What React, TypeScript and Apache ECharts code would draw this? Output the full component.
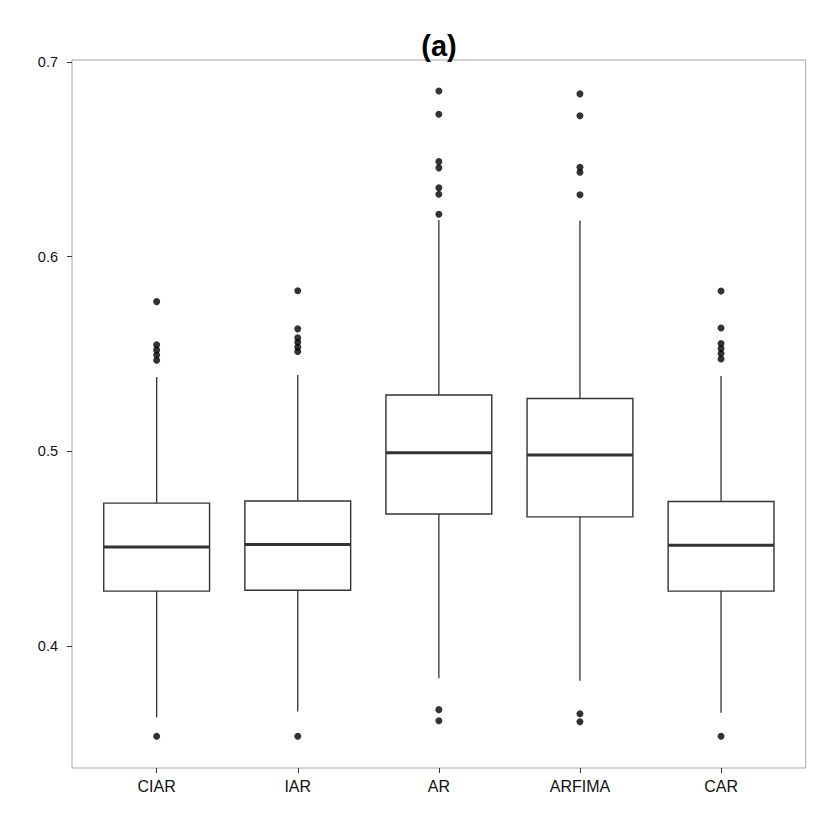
import React, { useEffect, useRef } from "react";
import * as echarts from "echarts";

const categories = ["CIAR", "IAR", "AR", "ARFIMA", "CAR"];
const lowerWhisker = [0.3634, 0.3663, 0.3834, 0.3822, 0.3657];
const q1 = [0.4282, 0.4286, 0.4678, 0.4663, 0.4282];
const median = [0.4508, 0.4521, 0.4993, 0.4981, 0.4517];
const q3 = [0.4734, 0.4745, 0.5289, 0.5271, 0.4742];
const upperWhisker = [0.5382, 0.5392, 0.6188, 0.6185, 0.5387];

const outliersCIAR = [0.3536, 0.5547, 0.5521, 0.5495, 0.5468, 0.5769];
const outliersIAR = [0.3536, 0.5513, 0.5535, 0.556, 0.5583, 0.5629, 0.5825];
const outliersAR = [0.3616, 0.3673, 0.6218, 0.632, 0.6354, 0.6456, 0.6488, 0.6731, 0.6851];
const outliersARFIMA = [0.3611, 0.3652, 0.6318, 0.6433, 0.6459, 0.6724, 0.6836];
const outliersCAR = [0.3536, 0.5474, 0.5502, 0.5528, 0.5554, 0.5633, 0.5823];

const yTicks = [0.4, 0.5, 0.6, 0.7];
const yMin = 0.33733;
const yMax = 0.701;
const title = "(a)";

const FONT = "'Liberation Sans', Arial, Helvetica, sans-serif";
const NARROW = "'Liberation Sans Narrow', 'Liberation Sans', Arial, sans-serif";

export default function App() {
  const ref = useRef<HTMLDivElement>(null);
  useEffect(() => {
    if (!ref.current) return;
    const chart = echarts.init(ref.current, null, { renderer: "svg" });
    const boxData = categories.map((_, i) => [
      i,
      lowerWhisker[i],
      q1[i],
      median[i],
      q3[i],
      upperWhisker[i],
    ]);
    const outlierLists = [outliersCIAR, outliersIAR, outliersAR, outliersARFIMA, outliersCAR];
    const outlierData: number[][] = [];
    outlierLists.forEach((list, i) => list.forEach((v) => outlierData.push([i, v])));

    const option: any = {
      animation: false,
      backgroundColor: "#ffffff",
      grid: { left: 86.1, right: 38.4, top: 60, bottom: 62 },
      graphic: [
        {
          type: "rect",
          z: 0,
          shape: { x: 72, y: 60, width: 733.7, height: 708 },
          style: { fill: "none", stroke: "#a6a6a6", lineWidth: 1 },
          silent: true,
        },
        {
          type: "text",
          x: 439,
          y: 46,
          style: {
            text: title,
            font: `bold 29px ${NARROW}`,
            fill: "#000",
            textAlign: "center",
            textVerticalAlign: "middle",
          },
        },
      ],
      xAxis: {
        type: "category",
        data: categories,
        boundaryGap: true,
        axisLine: { show: false },
        axisTick: { show: true, alignWithLabel: true, length: 5, lineStyle: { color: "#333", width: 1 } },
        axisLabel: { color: "#111", fontSize: 16, fontFamily: NARROW, margin: 10 },
        splitLine: { show: false },
      },
      yAxis: {
        type: "value",
        min: yMin,
        max: yMax,
        offset: 14.1,
        axisLine: { show: false },
        axisTick: { show: true, length: 5, customValues: yTicks, lineStyle: { color: "#333", width: 1 } },
        axisLabel: {
          customValues: yTicks,
          color: "#111",
          fontSize: 14.5,
          fontFamily: FONT,
          margin: 14,
          formatter: (v: number) => v.toFixed(1),
        },
        splitLine: { show: false },
      },
      series: [
        {
          type: "custom",
          data: boxData,
          encode: { x: 0, y: [1, 2, 3, 4, 5] },
          renderItem: (params: any, api: any) => {
            const i = api.value(0);
            const pMin = api.coord([i, api.value(1)]);
            const pQ1 = api.coord([i, api.value(2)]);
            const pMed = api.coord([i, api.value(3)]);
            const pQ3 = api.coord([i, api.value(4)]);
            const pMax = api.coord([i, api.value(5)]);
            const x = pMed[0];
            const halfW = (api.size([1, 0])[0] * 0.75) / 2;
            const stroke = "#333333";
            return {
              type: "group",
              children: [
                { type: "line", shape: { x1: x, y1: pMax[1], x2: x, y2: pQ3[1] }, style: { stroke, lineWidth: 1.3 } },
                { type: "line", shape: { x1: x, y1: pQ1[1], x2: x, y2: pMin[1] }, style: { stroke, lineWidth: 1.3 } },
                {
                  type: "rect",
                  shape: { x: x - halfW, y: pQ3[1], width: halfW * 2, height: pQ1[1] - pQ3[1] },
                  style: { fill: "#ffffff", stroke, lineWidth: 1.4 },
                },
                {
                  type: "line",
                  shape: { x1: x - halfW, y1: pMed[1], x2: x + halfW, y2: pMed[1] },
                  style: { stroke, lineWidth: 3 },
                },
              ],
            };
          },
        },
        {
          type: "scatter",
          data: outlierData,
          symbol: "circle",
          symbolSize: 7,
          itemStyle: { color: "#000" },
        },
      ],
    };
    chart.setOption(option);
    return () => chart.dispose();
  }, []);
  return (
    <div
      ref={ref}
      style={{ position: "fixed", left: 0, top: 0, width: 830, height: 830, background: "#fff" }}
    />
  );
}
